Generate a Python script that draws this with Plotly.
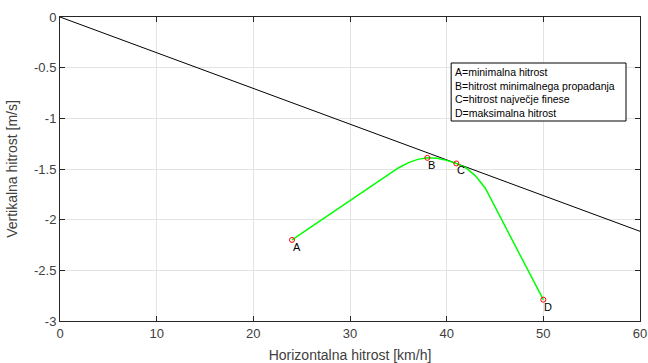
import plotly.graph_objects as go

# Data
curve_x = [24, 34, 35, 36, 37, 38, 39, 40, 41, 42, 43, 44, 50]
curve_y = [-2.2, -1.56, -1.49, -1.44, -1.405, -1.39, -1.395, -1.415, -1.445, -1.49, -1.57, -1.69, -2.79]

point_labels = ["A", "B", "C", "D"]
point_x = [24, 38, 41, 50]
point_y = [-2.2, -1.39, -1.445, -2.79]

tangent_x = [0, 60]
tangent_y = [0, -2.115]

x_ticks = [0, 10, 20, 30, 40, 50, 60]
y_ticks = [0, -0.5, -1, -1.5, -2, -2.5, -3]
y_ticktext = ["0", "-0.5", "-1", "-1.5", "-2", "-2.5", "-3"]

legend_lines = [
    "A=minimalna hitrost",
    "B=hitrost minimalnega propadanja",
    "C=hitrost največje finese",
    "D=maksimalna hitrost",
]

FONT = "Liberation Sans, Arial, Helvetica, sans-serif"
AX = "#262626"
TXT = "#404040"

fig = go.Figure()
fig.add_trace(go.Scatter(x=tangent_x, y=tangent_y, mode="lines",
                         line=dict(color="black", width=1), hoverinfo="skip"))
fig.add_trace(go.Scatter(x=curve_x, y=curve_y, mode="lines",
                         line=dict(color="#00ff00", width=1.5), hoverinfo="skip"))
fig.add_trace(go.Scatter(x=point_x, y=point_y, mode="markers",
                         marker=dict(symbol="circle-open", color="red", size=5,
                                     line=dict(width=1, color="red")),
                         hoverinfo="skip"))

for lab, px, py in zip(point_labels, point_x, point_y):
    fig.add_annotation(x=px, y=py, text=lab, showarrow=False,
                       xanchor="left", yanchor="middle", yshift=-7, xshift=-1,
                       font=dict(family=FONT, size=11, color="black"))

# legend-like text box
fig.add_shape(type="rect", xref="paper", yref="paper",
              x0=(451 - 59.5) / 580.5, x1=(626 - 59.5) / 580.5,
              y0=1 - (121 - 17) / 304, y1=1 - (63 - 17) / 304,
              line=dict(color="black", width=1), fillcolor="white", layer="above")
fig.add_annotation(xref="paper", yref="paper", x=(452.5 - 59.5) / 580.5, y=1 - (64 - 17) / 304,
                   xanchor="left", yanchor="top", align="left", showarrow=False,
                   text="<br>".join(legend_lines),
                   font=dict(family=FONT, size=10.5, color="black"))

axis_common = dict(
    showgrid=True, gridcolor="#e3e3e3", gridwidth=1,
    showline=True, linecolor=AX, linewidth=1, mirror="ticks",
    ticks="inside", ticklen=5, tickcolor=AX, zeroline=False,
    automargin=False,
    tickfont=dict(family=FONT, size=13, color=TXT),
)

fig.update_xaxes(range=[0, 60], tickvals=x_ticks,
                 title=dict(text="Horizontalna hitrost [km/h]", standoff=10,
                            font=dict(family=FONT, size=14, color=TXT)),
                 **axis_common)
fig.update_yaxes(range=[-3, 0], tickvals=y_ticks, ticktext=y_ticktext,
                 title=dict(text="Vertikalna hitrost [m/s]", standoff=13,
                            font=dict(family=FONT, size=14, color=TXT)),
                 **axis_common)

fig.update_layout(
    width=648, height=363,
    margin=dict(l=59.5, r=8, t=17, b=42),
    paper_bgcolor="white", plot_bgcolor="white",
    showlegend=False,
)

fig.write_html("out.html")
